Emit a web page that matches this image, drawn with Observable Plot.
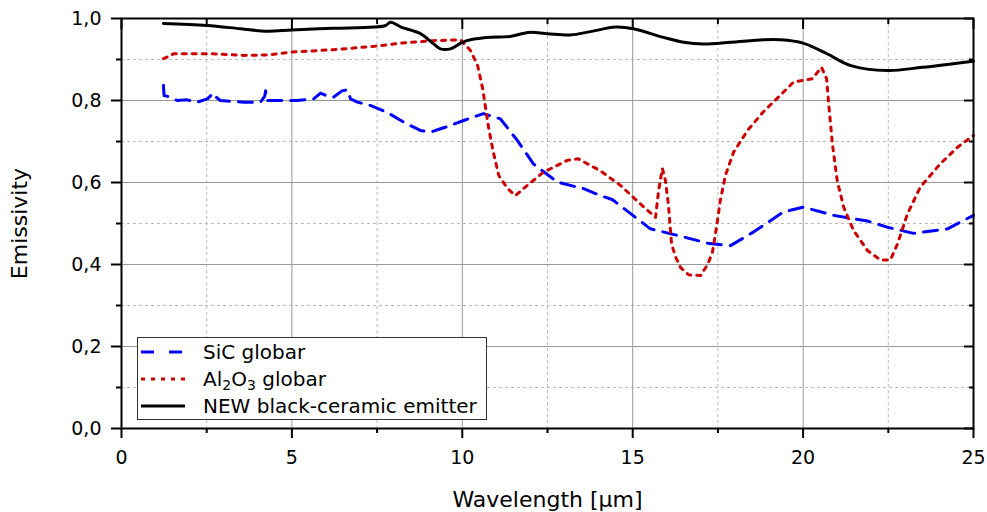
<!DOCTYPE html>
<html><head><meta charset="utf-8">
<script src="https://cdn.jsdelivr.net/npm/d3@7"></script>
<script src="https://cdn.jsdelivr.net/npm/@observablehq/plot@0.6"></script>
<style>
body{margin:0;background:#fff;font-family:"DejaVu Sans",sans-serif}
#wrap{position:relative;width:987px;height:512px}
#legend{position:absolute;left:137px;top:337px;width:350px;height:83px;box-sizing:border-box;border:1px solid #333;background:#fff;font-family:"DejaVu Sans",sans-serif;font-size:20px;color:#000}
#legend .row{position:absolute;left:0;height:27px;width:100%;display:flex;align-items:center}
#legend svg{margin-left:3px;margin-right:18px}
#legend sub{font-size:14px;vertical-align:-4px;line-height:0}
</style></head>
<body><div id="wrap"></div>
<script>
// NEW black-ceramic emitter
const blackX = [1.23,2.5,3.5,4.27,5.0,6.2,7.4,7.75,7.9,8.2,8.77,9.16,9.36,9.65,10.0,10.24,10.83,11.4,11.94,12.5,13.17,13.76,14.5,15.02,15.9,16.5,17.08,17.87,18.84,19.34,20.0,20.7,21.4,22.47,23.5,25];
const blackY = [.988,.983,.975,.969,.972,.976,.979,.983,.991,.979,.963,.938,.926,.926,.942,.948,.954,.956,.966,.963,.96,.968,.979,.975,.954,.942,.938,.942,.948,.948,.94,.914,.885,.873,.881,.896];
// Al2O3 globar
const redX = [1.23,1.4,1.53,2.6,3.58,4.28,4.96,6.22,7.4,8.19,9.16,9.95,10.24,10.45,10.6,10.68,10.77,10.9,11.07,11.33,11.56,11.85,12.38,13.08,13.4,14.06,14.64,15.17,15.67,15.76,15.87,15.96,16.05,16.14,16.26,16.4,16.64,16.99,17.2,17.34,17.46,17.57,17.72,17.96,18.37,18.84,19.42,19.72,20.27,20.54,20.69,20.75,20.86,21.0,21.19,21.48,21.89,22.27,22.56,22.77,23.06,23.44,24.03,24.53,25];
const redY = [.902,.908,.914,.914,.91,.911,.918,.924,.932,.94,.946,.948,.922,.885,.828,.784,.735,.678,.617,.585,.568,.589,.625,.654,.658,.628,.593,.552,.515,.58,.634,.605,.544,.45,.418,.393,.375,.373,.4,.43,.491,.556,.617,.674,.727,.773,.82,.845,.853,.881,.853,.792,.694,.605,.54,.483,.434,.411,.411,.45,.523,.589,.646,.686,.715];
// SiC globar
const blueX = [1.23,1.25,1.35,1.64,1.9,2.22,2.52,2.62,2.7,2.78,2.9,3.58,4.08,4.2,4.23,4.26,4.67,5.15,5.64,5.84,6.05,6.22,6.48,6.63,6.72,6.92,7.3,7.8,8.28,8.77,9.07,9.36,9.65,10.1,10.62,11.12,11.62,12.09,12.79,13.56,14.06,14.41,14.94,15.52,16.31,17.2,17.87,18.54,19.42,20.01,20.89,21.89,22.47,23.24,24.24,25];
const blueY = [.837,.812,.81,.8,.802,.796,.804,.812,.818,.808,.8,.796,.796,.81,.824,.8,.8,.8,.804,.818,.81,.808,.824,.826,.804,.796,.788,.771,.747,.727,.723,.731,.739,.753,.768,.755,.702,.645,.601,.585,.568,.558,.524,.487,.471,.452,.446,.479,.528,.54,.52,.506,.491,.476,.487,.52];

const xMajor = [0,5,10,15,20,25];
const xMinor = [2.5,7.5,12.5,17.5,22.5];
const yMajor = [0,0.2,0.4,0.6,0.8,1.0];
const yMinor = [0.1,0.3,0.5,0.7,0.9];
const xGrid = [5,10,15,20];
const yGrid = [0.2,0.4,0.6,0.8];
const seriesNames = ["SiC globar", "Al<sub>2</sub>O<sub>3</sub> globar", "NEW black-ceramic emitter"];

const toRows = (xs, ys) => xs.map((x, i) => ({x, y: ys[i]}));
const black = toRows(blackX, blackY);
const red = toRows(redX, redY);
const blue = toRows(blueX, blueY);
const fmt = d => d.toFixed(1).replace(".", ",");
const none = () => "";

const chart = Plot.plot({
  width: 987, height: 512,
  marginLeft: 121, marginRight: 14, marginTop: 18, marginBottom: 84,
  style: {fontFamily: "DejaVu Sans", fontSize: "19px", color: "#000", background: "#fff"},
  x: {domain: [0, 25]},
  y: {domain: [0, 1]},
  marks: [
    Plot.gridX(xMinor, {stroke: "#bbb", strokeOpacity: 1, strokeDasharray: "3,3"}),
    Plot.gridY(yMinor, {stroke: "#bbb", strokeOpacity: 1, strokeDasharray: "3,3"}),
    Plot.gridX(xGrid, {stroke: "#999", strokeOpacity: 1}),
    Plot.gridY(yGrid, {stroke: "#999", strokeOpacity: 1}),
    Plot.line(blue, {x: "x", y: "y", stroke: "#0000ff", strokeWidth: 3, strokeDasharray: "14,9"}),
    Plot.line(red, {x: "x", y: "y", stroke: "#cc0000", strokeWidth: 3, strokeDasharray: "4,6"}),
    Plot.line(black, {x: "x", y: "y", stroke: "#000", strokeWidth: 3, curve: "catmull-rom"}),
    Plot.axisX(xMajor, {anchor: "bottom", tickSize: 10, tickPadding: 12, strokeWidth: 2, fontSize: 19, tickFormat: d => String(d), label: null}),
    Plot.axisX({anchor: "bottom", ticks: [], label: "Wavelength [µm]", labelArrow: "none", labelAnchor: "center", labelOffset: 78, fontSize: 22}),
    Plot.axisX(xMinor, {anchor: "bottom", tickSize: 5, strokeWidth: 2, tickFormat: none, label: null}),
    Plot.axisY(yMajor, {anchor: "left", tickSize: 10, tickPadding: 10, strokeWidth: 2, fontSize: 19, tickFormat: fmt, label: null}),
    Plot.axisY({anchor: "left", ticks: [], label: "Emissivity", labelArrow: "none", labelAnchor: "center", labelOffset: 110, fontSize: 22}),
    Plot.axisY(yMinor, {anchor: "left", tickSize: 5, strokeWidth: 2, tickFormat: none, label: null}),
    Plot.axisX(xMajor, {anchor: "top", tickSize: 10, dy: 10, strokeWidth: 2, tickFormat: none, label: null}),
    Plot.axisX(xMinor, {anchor: "top", tickSize: 5, dy: 5, strokeWidth: 2, tickFormat: none, label: null}),
    Plot.axisY(yMajor, {anchor: "right", tickSize: 10, dx: -10, strokeWidth: 2, tickFormat: none, label: null}),
    Plot.axisY(yMinor, {anchor: "right", tickSize: 5, dx: -5, strokeWidth: 2, tickFormat: none, label: null}),
    Plot.frame({stroke: "#000", strokeWidth: 2})
  ]
});
const wrap = document.getElementById("wrap");
wrap.appendChild(chart);

const legendStyles = [
  {color: "#0000ff", dash: "13,15"},
  {color: "#cc0000", dash: "4,6"},
  {color: "#000", dash: null}
];
const legend = document.createElement("div");
legend.id = "legend";
seriesNames.forEach((name, i) => {
  const s = legendStyles[i];
  const row = document.createElement("div");
  row.className = "row";
  row.style.top = (0 + i * 27) + "px";
  row.innerHTML = `<svg width="44" height="6"><line x1="0" x2="44" y1="3" y2="3" stroke="${s.color}" stroke-width="3" ${s.dash ? `stroke-dasharray="${s.dash}"` : ""}/></svg><span>${name}</span>`;
  legend.appendChild(row);
});
wrap.appendChild(legend);
</script></body></html>
